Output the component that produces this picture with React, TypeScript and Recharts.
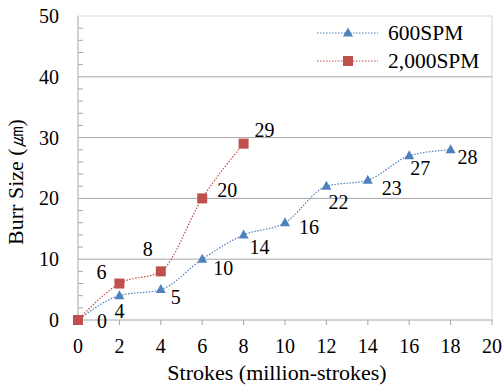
import React from "react";
import {
  LineChart,
  Line,
  XAxis,
  YAxis,
  ReferenceLine,
  LabelList,
} from "recharts";

const strokes = [0, 2, 4, 6, 8, 10, 12, 14, 16, 18];
const spm600 = [0, 4, 5, 10, 14, 16, 22, 23, 27, 28];
const spm2000 = [0, 6, 8, 20, 29];
const xTicks = [0, 2, 4, 6, 8, 10, 12, 14, 16, 18, 20];
const yTicks = [0, 10, 20, 30, 40, 50];
const yMinorStep = 2;

const BLUE = "#4f81bd";
const RED = "#c0504d";
const FONT = "Liberation Serif";

// label nudges (px) so numbers sit where the original has them
const offs600: [number, number][] = [
  [24, 1], [0, 15], [15, 7], [21, 9], [16, 12],
  [24, 4], [12, 16], [24, 8], [11, 12], [17, 7],
];
const offs2000: ([number, number] | null)[] = [
  null, [-18, -12], [-13, -22], [25, -8], [21, -14],
];

const rows = strokes.map((s, i) => ({
  x: s,
  a: spm600[i],
  b: i < spm2000.length ? spm2000[i] : undefined,
}));

const yAll: number[] = [];
for (let v = 0; v <= 50; v += yMinorStep) yAll.push(v);

const YTick = (p: any) => {
  const { x, y, payload } = p;
  if (yTicks.includes(payload.value)) {
    return (
      <text x={x - 19} y={y} dy="0.35em" textAnchor="end" fontSize={20} fontFamily={FONT} fill="#000">
        {payload.value}
      </text>
    );
  }
  return <line x1={x} x2={x + 5} y1={y} y2={y} stroke="#a6a6a6" />;
};

const XTick = (p: any) => (
  <text x={p.x} y={p.y} dy="0.71em" textAnchor="middle" fontSize={20} fontFamily={FONT} fill="#000">
    {p.payload.value}
  </text>
);

const tri = (p: any) => {
  if (p.cx == null || p.cy == null) return <g key={`t${p.index}`} />;
  const { cx, cy } = p;
  return (
    <path key={`t${p.index}`} d={`M${cx},${cy - 5.5} L${cx + 5},${cy + 3.5} L${cx - 5},${cy + 3.5} Z`} fill={BLUE} />
  );
};

const sq = (p: any) => {
  if (p.cx == null || p.cy == null) return <g key={`s${p.index}`} />;
  return <rect key={`s${p.index}`} x={p.cx - 5} y={p.cy - 5} width={10} height={10} fill={RED} />;
};

const makeLabel = (offs: ([number, number] | null)[]) => (p: any) => {
  const o = offs[p.index];
  if (!o || p.value == null) return null;
  return (
    <text
      key={`l${p.index}`}
      x={p.x + o[0]}
      y={p.y + o[1]}
      textAnchor="middle"
      dominantBaseline="central"
      fontSize={20}
      fontFamily={FONT}
      fill="#000"
    >
      {p.value}
    </text>
  );
};

const LegendRow = ({ color, name, square }: { color: string; name: string; square?: boolean }) => (
  <div style={{ display: "flex", alignItems: "center", height: 28 }}>
    <svg width={66} height={28}>
      <line x1={5} x2={66} y1={14} y2={14} stroke={color} strokeWidth={1.2} strokeDasharray="1.5 1.5" />
      {square ? (
        <rect x={31} y={9} width={10} height={10} fill={color} />
      ) : (
        <path d="M36,8.5 L41,17.5 L31,17.5 Z" fill={color} />
      )}
    </svg>
    <span style={{ marginLeft: 10, fontFamily: FONT, fontSize: 21.5, color: "#000" }}>{name}</span>
  </div>
);

export default function App() {
  return (
    <div
      style={{
        position: "absolute",
        left: 0,
        top: 0,
        width: 504,
        height: 386,
        background: "#fff",
        fontFamily: FONT,
      }}
    >
      <LineChart width={504} height={386} data={rows} margin={{ top: 16, right: 12, left: 0, bottom: 0 }}>
        {yTicks.slice(1, -1).map((v) => (
          <ReferenceLine key={v} y={v} stroke="#a6a6a6" />
        ))}
        <ReferenceLine y={50} stroke="#d9d9d9" />
        <ReferenceLine x={20} stroke="#d0d0d0" />
        <XAxis
          dataKey="x"
          type="number"
          domain={[0, 20]}
          ticks={xTicks}
          interval={0}
          height={66}
          tickSize={5}
          tickMargin={14}
          stroke="#a6a6a6"
          tick={XTick}
          label={({ viewBox }: any) => (
            <text
              x={viewBox.x + viewBox.width / 2 - 8}
              y={viewBox.y + viewBox.height - 6}
              textAnchor="middle"
              fontSize={22}
              fontFamily={FONT}
              fill="#000"
            >
              Strokes (million-strokes)
            </text>
          )}
        />
        <YAxis
          type="number"
          domain={[0, 50]}
          ticks={yAll}
          interval={0}
          width={78}
          tickSize={0}
          tickMargin={0}
          tickLine={false}
          stroke="#a6a6a6"
          tick={YTick}
        />
        <Line
          dataKey="a"
          name="600SPM"
          type="monotone"
          stroke={BLUE}
          strokeWidth={1.2}
          strokeDasharray="1.5 1.5"
          dot={tri}
          activeDot={false}
          isAnimationActive={false}
        >
          <LabelList dataKey="a" content={makeLabel(offs600)} />
        </Line>
        <Line
          dataKey="b"
          name="2,000SPM"
          type="monotone"
          stroke={RED}
          strokeWidth={1.2}
          strokeDasharray="1.5 1.5"
          dot={sq}
          activeDot={false}
          isAnimationActive={false}
        >
          <LabelList dataKey="b" content={makeLabel(offs2000)} />
        </Line>
      </LineChart>
      <svg style={{ position: "absolute", left: 0, top: 0, pointerEvents: "none" }} width={40} height={386}>
        <text
          x={15}
          y={182}
          transform="rotate(-90, 15, 182)"
          textAnchor="middle"
          dominantBaseline="central"
          fontSize={22}
          fontFamily={FONT}
          fill="#000"
        >
          Burr Size (㎛)
        </text>
      </svg>
      <div style={{ position: "absolute", left: 312, top: 19 }}>
        <LegendRow color={BLUE} name="600SPM" />
        <LegendRow color={RED} name="2,000SPM" square />
      </div>
    </div>
  );
}
